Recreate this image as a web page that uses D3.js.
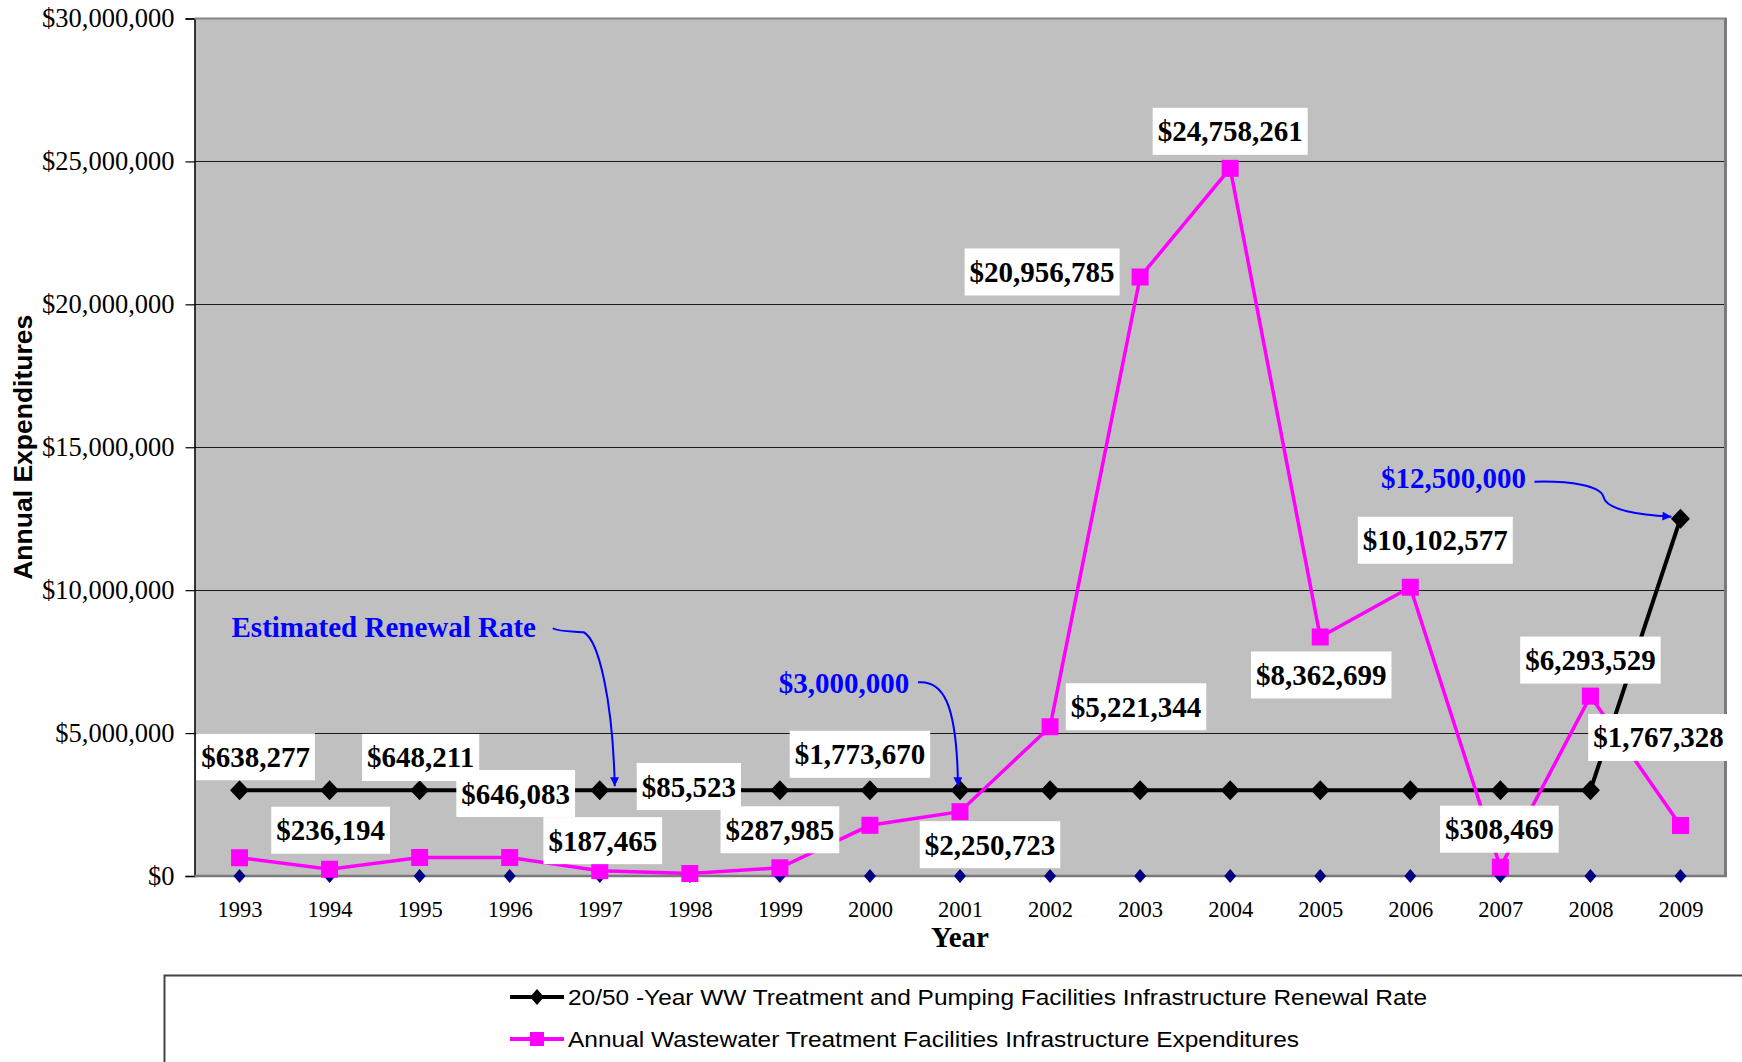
<!DOCTYPE html>
<html>
<head>
<meta charset="utf-8">
<script src="https://cdn.jsdelivr.net/npm/d3@7"></script>
<style>
  body { margin: 0; background: #fff; }
  svg { display: block; }
</style>
</head>
<body>
<svg id="chart" width="1742" height="1062"></svg>
<script>
// chart data
var years = [1993,1994,1995,1996,1997,1998,1999,2000,2001,2002,2003,2004,2005,2006,2007,2008,2009]
var renewalRate = [3000000,3000000,3000000,3000000,3000000,3000000,3000000,3000000,3000000,
                   3000000,3000000,3000000,3000000,3000000,3000000,3000000,12500000]
var annualExp = [638277,236194,648211,646083,187465,85523,287985,1773670,2250723,
                 5221344,20956785,24758261,8362699,10102577,308469,6293529,1767328]
var zeroSeries = [0,0,0,0,0,0,0,0,0,0,0,0,0,0,0,0,0]
var yTicks = [0,5000000,10000000,15000000,20000000,25000000,30000000]
var seriesNames = ['20/50 -Year WW Treatment and Pumping Facilities Infrastructure Renewal Rate',
                   'Annual Wastewater Treatment Facilities Infrastructure Expenditures']

// where each data label sits, relative to its point (px)
var labelOffsets = [[16,-101],[1,-39],[1,-100],[6,-64],[3,-30],[-1,-87],[0,-38],[-10,-71],[30,33],
                    [86,-20],[-98,-5],[0,-37],[1,38],[25,-47],[-1,-38],[0,-36],[-22,-88]]

var svg = d3.select('#chart')
var plotL = 194.5, plotR = 1725.5, plotT = 18.5, plotB = 876

var x = d3.scalePoint().domain(years).range([plotL, plotR]).padding(0.5)
var y = d3.scaleLinear().domain([0, 30000000]).range([plotB, plotT])
var money = d3.format('$,.0f')

var defs = svg.append('defs')
defs.append('marker')
  .attr('id','arrow').attr('viewBox','0 0 10 10')
  .attr('refX',10).attr('refY',5)
  .attr('markerUnits','userSpaceOnUse')
  .attr('markerWidth',11).attr('markerHeight',9)
  .attr('orient','auto')
  .append('path').attr('d','M0,0 L10,5 L0,10 z').attr('fill','#0000ff')

// plot background
svg.append('rect')
  .attr('x', plotL).attr('y', plotT)
  .attr('width', plotR - plotL).attr('height', plotB - plotT)
  .attr('fill', '#c0c0c0')

// gridlines
svg.append('g').selectAll('line')
  .data(yTicks.filter(function(d){ return d > 0 && d < 30000000 }))
  .join('line')
  .attr('x1', plotL).attr('x2', plotR)
  .attr('y1', function(d){ return Math.round(y(d)) + 0.5 })
  .attr('y2', function(d){ return Math.round(y(d)) + 0.5 })
  .attr('stroke', '#1a1a1a').attr('stroke-width', 1.2)

// y axis
var yAxis = svg.append('g')
  .attr('transform', 'translate(' + plotL + ',0)')
  .call(d3.axisLeft(y).tickValues(yTicks).tickFormat(money).tickSize(9).tickPadding(11))
yAxis.select('.domain').attr('stroke', '#000').attr('stroke-width', 1.5)
yAxis.selectAll('.tick line').attr('stroke', '#000').attr('stroke-width', 1.2)
yAxis.selectAll('text')
  .attr('font-family', '"Liberation Serif", "Times New Roman", serif')
  .attr('font-size', 26.5).attr('fill', '#000')

// x axis
var xAxis = svg.append('g')
  .attr('transform', 'translate(0,' + plotB + ')')
  .call(d3.axisBottom(x).tickSize(0).tickPadding(25))
xAxis.select('.domain').remove()
xAxis.selectAll('text')
  .attr('font-family', '"Liberation Serif", "Times New Roman", serif')
  .attr('font-size', 22.5).attr('fill', '#000')

// plot frame
svg.append('line').attr('x1', plotL).attr('x2', plotR + 1.5).attr('y1', plotT).attr('y2', plotT)
  .attr('stroke', '#858585').attr('stroke-width', 2)
svg.append('line').attr('x1', plotR).attr('x2', plotR).attr('y1', plotT).attr('y2', plotB + 1)
  .attr('stroke', '#7a7a7a').attr('stroke-width', 3)
svg.append('line').attr('x1', plotL).attr('x2', plotR + 1.5).attr('y1', plotB).attr('y2', plotB)
  .attr('stroke', '#7a7a7a').attr('stroke-width', 2.5)

// axis titles
svg.append('text')
  .attr('x', 960).attr('y', 947)
  .attr('text-anchor', 'middle')
  .attr('font-family', '"Liberation Serif", "Times New Roman", serif')
  .attr('font-weight', 'bold').attr('font-size', 29)
  .text('Year')
svg.append('text')
  .attr('transform', 'translate(32,' + ((plotT + plotB) / 2) + ') rotate(-90)')
  .attr('text-anchor', 'middle')
  .attr('font-family', '"Liberation Sans", Arial, sans-serif')
  .attr('font-weight', 'bold').attr('font-size', 26.5)
  .text('Annual Expenditures')

var diamond = function(w, h){ return 'M0,' + (-h) + 'L' + w + ',0L0,' + h + 'L' + (-w) + ',0Z' }

// navy zero series
svg.append('g').selectAll('path')
  .data(zeroSeries)
  .join('path')
  .attr('transform', function(d, i){ return 'translate(' + x(years[i]) + ',' + y(d) + ')' })
  .attr('d', diamond(6, 7))
  .attr('fill', '#000080')

// renewal rate series
var line = d3.line()
  .x(function(d, i){ return x(years[i]) })
  .y(function(d){ return y(d) })
svg.append('path').datum(renewalRate)
  .attr('d', line).attr('fill', 'none')
  .attr('stroke', '#000').attr('stroke-width', 4)
svg.append('g').selectAll('path')
  .data(renewalRate)
  .join('path')
  .attr('transform', function(d, i){ return 'translate(' + x(years[i]) + ',' + y(d) + ')' })
  .attr('d', diamond(9.5, 10))
  .attr('fill', '#000')

// expenditures series
svg.append('path').datum(annualExp)
  .attr('d', line).attr('fill', 'none')
  .attr('stroke', '#ff00ff').attr('stroke-width', 3.5)
svg.append('g').selectAll('rect')
  .data(annualExp)
  .join('rect')
  .attr('x', function(d, i){ return x(years[i]) - 8.5 })
  .attr('y', function(d){ return y(d) - 8.5 })
  .attr('width', 17).attr('height', 17)
  .attr('fill', '#ff00ff')

// data labels in white boxes
var labels = svg.append('g').selectAll('g')
  .data(annualExp)
  .join('g')
  .attr('transform', function(d, i){
    return 'translate(' + (x(years[i]) + labelOffsets[i][0]) + ',' + (y(d) + labelOffsets[i][1]) + ')'
  })
labels.append('rect').attr('fill', '#fff')
labels.append('text')
  .attr('y', 10)
  .attr('text-anchor', 'middle')
  .attr('font-family', '"Liberation Serif", "Times New Roman", serif')
  .attr('font-weight', 'bold').attr('font-size', 29)
  .text(function(d){ return money(d) })
labels.each(function(){
  var g = d3.select(this)
  var w = g.select('text').node().getComputedTextLength() + 10
  g.select('rect').attr('x', -w / 2).attr('y', -23.5).attr('width', w).attr('height', 47)
})

// blue callouts
function callout(text, tx, ty, pathFn){
  svg.append('path')
    .attr('d', pathFn)
    .attr('fill', 'none').attr('stroke', '#0000ff').attr('stroke-width', 2)
    .attr('marker-end', 'url(#arrow)')
  svg.append('text')
    .attr('x', tx).attr('y', ty + 10)
    .attr('text-anchor', 'middle')
    .attr('font-family', '"Liberation Serif", "Times New Roman", serif')
    .attr('font-weight', 'bold').attr('font-size', 29)
    .attr('fill', '#0000ff')
    .text(text)
}

var px = x(1997), py = y(renewalRate[4])
callout('Estimated Renewal Rate', px - 216, py - 163, function(){
  var p = d3.path()
  p.moveTo(px - 47, py - 162)
  p.bezierCurveTo(px - 40, py - 158, px - 24, py - 159, px - 16, py - 158)
  p.bezierCurveTo(px - 1, py - 150, px + 13, py - 90, px + 15, py - 4)
  return p.toString()
})

var qx = x(2001), qy = y(renewalRate[8])
callout(money(renewalRate[8]), qx - 116, qy - 107, function(){
  var p = d3.path()
  p.moveTo(qx - 42, qy - 108)
  p.bezierCurveTo(qx - 18, qy - 110, qx - 3, qy - 90, qx - 2, qy - 4)
  return p.toString()
})

var rx = x(2009), ry = y(renewalRate[16])
callout(money(renewalRate[16]), rx - 227, ry - 41, function(){
  var p = d3.path()
  p.moveTo(rx - 146, ry - 37)
  p.bezierCurveTo(rx - 110, ry - 38, rx - 80, ry - 33, rx - 77, ry - 22)
  p.bezierCurveTo(rx - 74, ry - 8, rx - 40, ry - 4, rx - 9, ry - 2)
  return p.toString()
})

// legend
var legend = svg.append('g')
legend.append('rect')
  .attr('x', 164.5).attr('y', 975.5).attr('width', 1700).attr('height', 200)
  .attr('fill', '#fff').attr('stroke', '#444').attr('stroke-width', 2)
var ly = [997, 1039]
legend.append('line').attr('x1', 510).attr('x2', 564).attr('y1', ly[0]).attr('y2', ly[0])
  .attr('stroke', '#000').attr('stroke-width', 4)
legend.append('path').attr('transform', 'translate(537,' + ly[0] + ')')
  .attr('d', diamond(7, 8)).attr('fill', '#000')
legend.append('line').attr('x1', 510).attr('x2', 564).attr('y1', ly[1]).attr('y2', ly[1])
  .attr('stroke', '#ff00ff').attr('stroke-width', 4)
legend.append('rect').attr('x', 530).attr('y', ly[1] - 7).attr('width', 14).attr('height', 14)
  .attr('fill', '#ff00ff')
var legendWidths = [859, 731]
seriesNames.forEach(function(name, i){
  legend.append('text')
    .attr('x', 568).attr('y', ly[i] + 8)
    .attr('font-family', '"Liberation Sans", Arial, sans-serif')
    .attr('font-size', 21.5)
    .attr('textLength', legendWidths[i]).attr('lengthAdjust', 'spacingAndGlyphs')
    .text(name)
})
</script>
</body>
</html>
